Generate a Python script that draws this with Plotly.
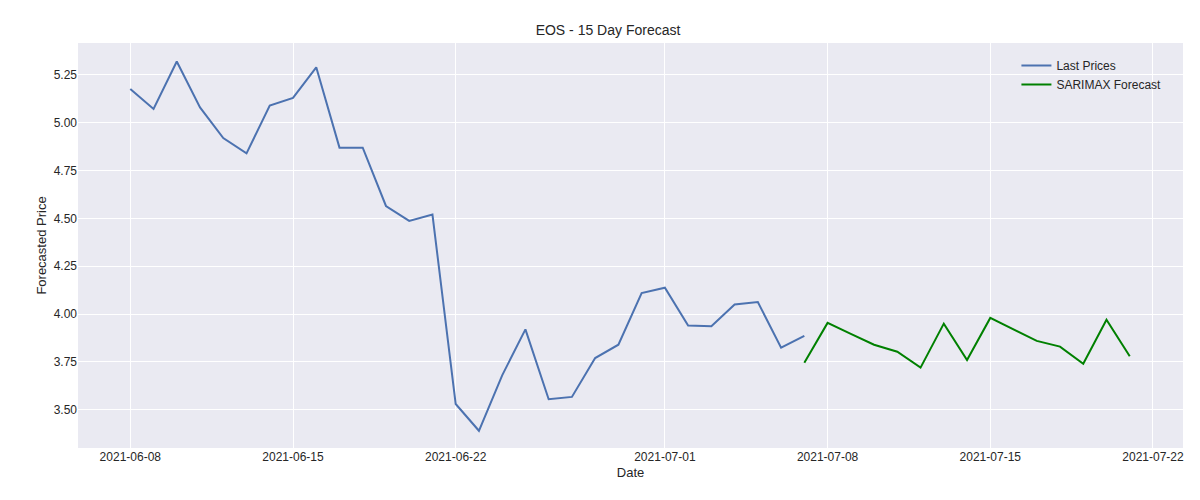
import pandas as pd
import plotly.graph_objects as go

# Data
last_dates = pd.date_range("2021-06-08", "2021-07-07", freq="D")
last_prices = [5.177, 5.072, 5.32, 5.08, 4.92, 4.84, 5.09, 5.13, 5.29, 4.87,
               4.87, 4.565, 4.487, 4.52, 3.53, 3.39, 3.68, 3.92, 3.555, 3.567,
               3.77, 3.84, 4.11, 4.138, 3.94, 3.936, 4.05, 4.063, 3.824, 3.886]

fc_dates = pd.date_range("2021-07-07", "2021-07-21", freq="D")
fc_prices = [3.745, 3.954, 3.897, 3.84, 3.803, 3.72, 3.95, 3.76, 3.98, 3.918,
             3.86, 3.83, 3.74, 3.97, 3.78]

tick_dates = ["2021-06-08", "2021-06-15", "2021-06-22", "2021-07-01",
              "2021-07-08", "2021-07-15", "2021-07-22"]
y_ticks = [3.50, 3.75, 4.00, 4.25, 4.50, 4.75, 5.00, 5.25]

fig = go.Figure()
fig.add_trace(go.Scatter(x=last_dates, y=last_prices, mode="lines",
                         name="Last Prices", line=dict(color="#4C72B0", width=2)))
fig.add_trace(go.Scatter(x=fc_dates, y=fc_prices, mode="lines",
                         name="SARIMAX Forecast", line=dict(color="green", width=2)))

fig.update_layout(
    width=1200, height=500,
    margin=dict(l=70, r=25, t=35, b=60, autoexpand=False),
    paper_bgcolor="white", plot_bgcolor="#EAEAF2",
    font=dict(family="Liberation Sans, Arial, sans-serif", size=12, color="#262626"),
    title=dict(text="EOS - 15 Day Forecast", x=0.5, xanchor="center", y=0.965,
               font=dict(size=14)),
    legend=dict(x=0.985, y=0.98, xanchor="right", yanchor="top",
                bgcolor="rgba(0,0,0,0)", font=dict(size=12)),
    showlegend=True,
)
fig.update_xaxes(
    title=dict(text="Date", standoff=4, font=dict(size=13)),
    automargin=False,
    range=["2021-06-05 18:00", "2021-07-23 07:00"],
    tickvals=tick_dates, ticktext=tick_dates,
    showgrid=True, gridcolor="white", gridwidth=1.2, zeroline=False, showline=False,
)
fig.update_yaxes(
    title=dict(text="Forecasted Price", standoff=4, font=dict(size=13)),
    automargin=False,
    range=[3.30, 5.417],
    tickvals=y_ticks, ticktext=[f"{v:.2f}" for v in y_ticks],
    showgrid=True, gridcolor="white", gridwidth=1.2, zeroline=False, showline=False,
)

fig.write_html("out.html")
